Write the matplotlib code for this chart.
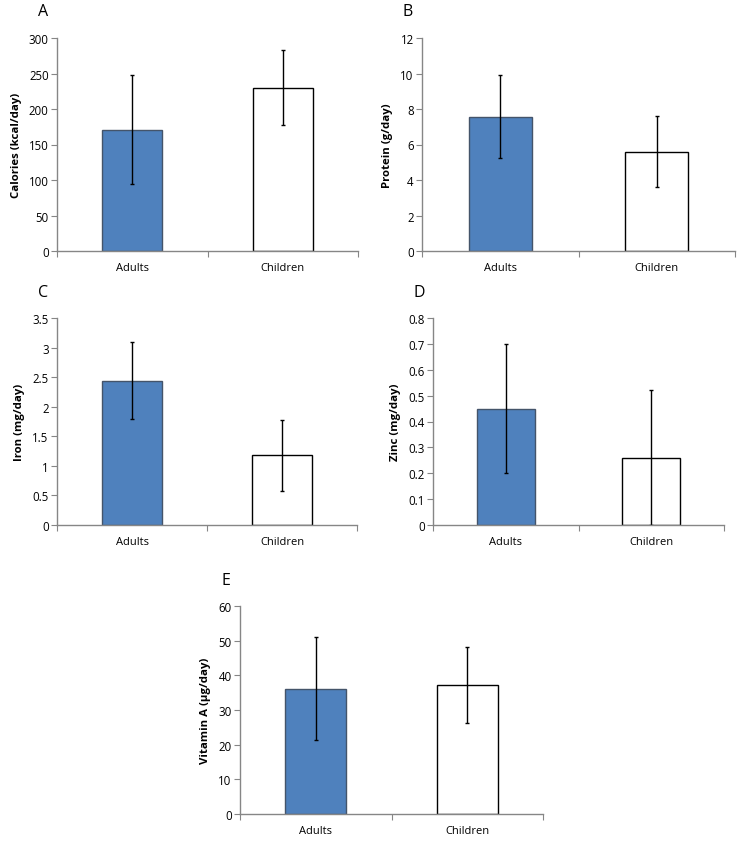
import matplotlib.pyplot as plt
from matplotlib.ticker import FixedLocator

plt.rcParams["font.family"] = ["Open Sans", "DejaVu Sans"]

groups = ["Adults", "Children"]

calories = [171, 230]
calories_err = [77, 53]
protein = [7.57, 5.58]
protein_err = [2.35, 2.0]
iron = [2.44, 1.18]
iron_err = [0.65, 0.6]
zinc = [0.45, 0.26]
zinc_err = [0.25, 0.26]
vit_a = [36.2, 37.2]
vit_a_err = [14.8, 11.0]

W, H = 742, 845
fig = plt.figure(figsize=(W / 100, H / 100), dpi=100)


def box(left, top, right, bottom):
    return [left / W, 1 - bottom / H, (right - left) / W, (bottom - top) / H]


panels = [
    ("A", box(57, 39, 358, 252), calories, calories_err, "Calories (kcal/day)",
     (0, 300), [0, 50, 100, 150, 200, 250, 300], ["0", "50", "100", "150", "200", "250", "300"]),
    ("B", box(422, 39, 735, 252), protein, protein_err, "Protein (g/day)",
     (0, 12), [0, 2, 4, 6, 8, 10, 12], ["0", "2", "4", "6", "8", "10", "12"]),
    ("C", box(57, 319, 357, 526), iron, iron_err, "Iron (mg/day)",
     (0, 3.5), [0, 0.5, 1, 1.5, 2, 2.5, 3, 3.5], ["0", "0.5", "1", "1.5", "2", "2.5", "3", "3.5"]),
    ("D", box(433, 319, 724, 526), zinc, zinc_err, "Zinc (mg/day)",
     (0, 0.8), [0, 0.1, 0.2, 0.3, 0.4, 0.5, 0.6, 0.7, 0.8],
     ["0", "0.1", "0.2", "0.3", "0.4", "0.5", "0.6", "0.7", "0.8"]),
    ("E", box(240, 607, 543, 815), vit_a, vit_a_err, "Vitamin A (µg/day)",
     (0, 60), [0, 10, 20, 30, 40, 50, 60], ["0", "10", "20", "30", "40", "50", "60"]),
]

axis_gray = "#868686"

for letter, rect, vals, errs, ylabel, ylim, yticks, ylabels in panels:
    ax = fig.add_axes(rect)
    x = [0.5, 1.5]
    ax.bar(x, vals, width=0.4, color=["#4F81BD", "white"],
           edgecolor=["#44546a", "black"], linewidth=1.0, zorder=2)
    ax.errorbar(x, vals, yerr=errs, fmt="none", ecolor="black",
                elinewidth=1.0, capsize=1.5, capthick=1.0, zorder=3)
    ax.set_xlim(0, 2)
    ax.set_ylim(*ylim)
    ax.set_yticks(yticks)
    ax.set_yticklabels(ylabels)
    ax.set_ylabel(ylabel, fontsize=8.2, fontweight="bold", labelpad=5)
    ax.set_xticks([0, 1, 2])
    ax.set_xticklabels([])
    ax.xaxis.set_minor_locator(FixedLocator(x))
    ax.set_xticklabels(groups, minor=True)
    ax.tick_params(axis="x", which="minor", length=0, labelsize=8, pad=8)
    ax.tick_params(axis="x", which="major", length=4, width=0.8, color=axis_gray)
    ax.tick_params(axis="y", length=4, width=0.8, color=axis_gray, labelsize=8.3, pad=2)
    for side in ["top", "right"]:
        ax.spines[side].set_visible(False)
    for side in ["left", "bottom"]:
        ax.spines[side].set_color(axis_gray)
        ax.spines[side].set_linewidth(1.0)
    ax.spines["bottom"].set_zorder(4)
    ax.text(-0.047, 1.125, letter, transform=ax.transAxes, fontsize=11.5,
            ha="center", va="center")

fig.savefig("out.png", dpi=100)
